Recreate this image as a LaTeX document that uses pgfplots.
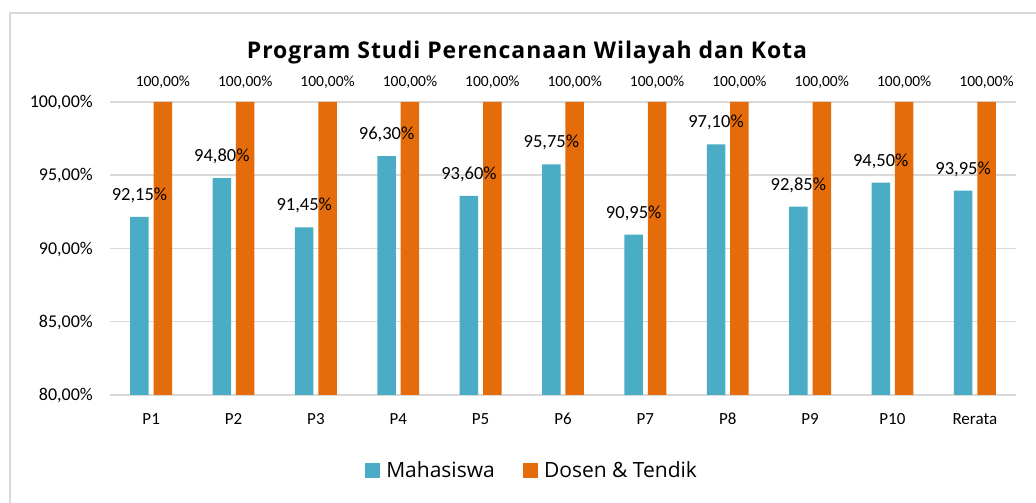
\documentclass[border=0pt]{standalone}
\usepackage{pgfplots}
\pgfplotsset{compat=1.18}
\usepackage{fontspec}
\setmainfont{Carlito}
\newfontfamily\legfont{Open Sans}
\newfontfamily\titlefont[LetterSpace=4]{Open Sans}
\definecolor{mblue}{HTML}{4BACC6}
\definecolor{morange}{HTML}{E46C0A}
\definecolor{gridc}{HTML}{D9D9D9}
\begin{document}
\begin{tikzpicture}[x=1pt,y=1pt]
\fill[white] (0,0) rectangle (1036,503);
\draw[gridc, line width=1.5pt] (10,-5) -- (10,490) -- (1040,490);
\node[anchor=base, font=\titlefont\bfseries\fontsize{23}{27}\selectfont] at (527,444.7) {Program Studi Perencanaan Wilayah dan Kota};
\begin{axis}[
  at={(110pt,108pt)}, anchor=south west,
  scale only axis, width=906pt, height=293pt,
  xmin=-0.5, xmax=10.5, ymin=80, ymax=100,
  ytick={80,85,90,95,100},
  xtick={0,1,2,3,4,5,6,7,8,9,10},
  xticklabels={P1,P2,P3,P4,P5,P6,P7,P8,P9,P10,Rerata},
  axis line style={draw=none},
  major tick length=0pt,
  ymajorgrids, grid style={gridc, line width=1.5pt},
  clip=false,
  yticklabel={\pgfmathprintnumber{\tick}\%},
  yticklabel style={anchor=base east, inner sep=0pt, xshift=-17pt, yshift=-5.7pt, font=\fontsize{18}{20}\selectfont},
  xticklabel style={anchor=base, inner sep=0pt, yshift=-29.5pt, font=\fontsize{17}{19}\selectfont},
  ybar, bar width=18.5pt,
  legend style={at={(0.4658,-0.256)}, anchor=center, draw=none, fill=none, legend columns=2,
    font=\legfont\fontsize{21}{24}\selectfont,
    /tikz/every even column/.append style={column sep=26pt}},
  /pgf/number format/use comma,
  /pgf/number format/fixed,
  /pgf/number format/fixed zerofill,
  /pgf/number format/precision=2,
  /pgf/number format/assume math mode=true,
]
\addlegendimage{legend image code/.code={\fill[mblue] (0pt,-7pt) rectangle (14pt,7pt); \path[draw=none] (0pt,0pt) -- (19pt,0pt);}}
\addlegendentry{Mahasiswa}
\addlegendimage{legend image code/.code={\fill[morange] (0pt,-7pt) rectangle (14pt,7pt); \path[draw=none] (0pt,0pt) -- (19pt,0pt);}}
\addlegendentry{Dosen \& Tendik}
\addplot[fill=morange, draw=none, bar shift=11.7pt, forget plot,
  nodes near coords={\pgfmathprintnumber{\pgfplotspointmeta}\%},
  every node near coord/.append style={anchor=base, inner sep=0pt, yshift=15.3pt, font=\fontsize{15.5}{17}\selectfont, text=black}] coordinates {
(0,100) (1,100) (2,100) (3,100) (4,100) (5,100) (6,100) (7,100) (8,100) (9,100) (10,100)};
\addplot[fill=mblue, draw=none, bar shift=-11.7pt, forget plot,
  nodes near coords={\pgfmathprintnumber{\pgfplotspointmeta}\%},
  every node near coord/.append style={anchor=base, inner sep=0pt, yshift=16.5pt, font=\fontsize{18.5}{20}\selectfont, text=black}] coordinates {
(0,92.15) (1,94.80) (2,91.45) (3,96.30) (4,93.60) (5,95.75) (6,90.95) (7,97.10) (8,92.85) (9,94.50) (10,93.95)};
\end{axis}
\pgfresetboundingbox
\path[use as bounding box] (0,0) rectangle (1036,503);
\end{tikzpicture}
\end{document}
